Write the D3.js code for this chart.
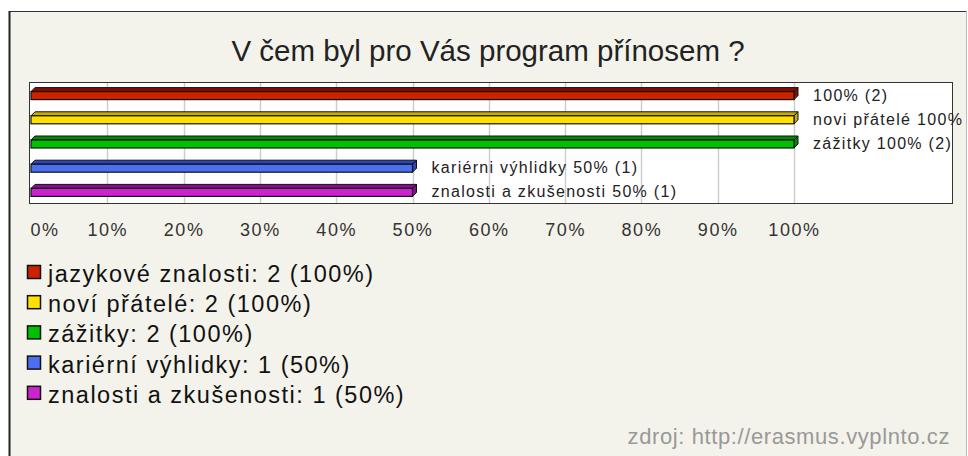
<!DOCTYPE html>
<html>
<head>
<meta charset="utf-8">
<script src="https://cdn.jsdelivr.net/npm/d3@7"></script>
<style>
  html, body { margin: 0; padding: 0; background: #fff; }
  svg { display: block; font-family: "Liberation Sans", Arial, sans-serif; }
</style>
</head>
<body>
<svg id="chart" width="968" height="456"></svg>
<script>
// Chart data
const title = "V čem byl pro Vás program přínosem ?";
const categories = ["jazykové znalosti", "noví přátelé", "zážitky", "kariérní výhlidky", "znalosti a zkušenosti"];
const counts = [2, 2, 2, 1, 1];
const percents = [100, 100, 100, 50, 50];
// labels as they appear next to the bars
const barLabels = ["100% (2)", "novi přátelé 100% (2)", "zážitky 100% (2)", "kariérni výhlidky 50% (1)", "znalosti a zkušenosti 50% (1)"];
const tickValues = [0, 10, 20, 30, 40, 50, 60, 70, 80, 90, 100];
const frontColors = ["#cc2200", "#ffe000", "#00c000", "#4a70f0", "#cc22d0"];
const topColors = ["#8a0a00", "#c8ae00", "#008a00", "#2a46b8", "#8c0a90"];
const source = "zdroj: http://erasmus.vyplnto.cz";

const svg = d3.select("#chart");
const W = 968, H = 456;

// outer frame
svg.append("rect").attr("x", 0).attr("y", 0).attr("width", W).attr("height", H).attr("fill", "#fff");
svg.append("rect").attr("x", 9).attr("y", 11).attr("width", 957).attr("height", 460)
  .attr("fill", "#f3f3eb");
svg.append("line").attr("x1", 9).attr("x2", 966).attr("y1", 11.5).attr("y2", 11.5)
  .attr("stroke", "#333").attr("stroke-width", 1);
svg.append("line").attr("x1", 9.5).attr("x2", 9.5).attr("y1", 11).attr("y2", H)
  .attr("stroke", "#222").attr("stroke-width", 2);
svg.append("line").attr("x1", 966.5).attr("x2", 966.5).attr("y1", 11).attr("y2", H)
  .attr("stroke", "#bbb").attr("stroke-width", 1);

svg.append("text")
  .attr("x", 488).attr("y", 61)
  .attr("text-anchor", "middle")
  .attr("font-size", 29.5)
  .attr("fill", "#222")
  .text(title);

// plot area
const plot = { left: 29, top: 82, right: 952, bottom: 203 };
const x = d3.scaleLinear().domain([0, 100]).range([31, 794]);
const y = d3.scaleBand().domain(categories).range([plot.top, plot.bottom]);

svg.append("rect")
  .attr("x", plot.left + 0.5).attr("y", plot.top + 0.5)
  .attr("width", plot.right - plot.left).attr("height", plot.bottom - plot.top)
  .attr("fill", "#fff").attr("stroke", "#333");

// grid lines
svg.append("g")
  .selectAll("line")
  .data(tickValues.slice(1))
  .join("line")
  .attr("x1", d => Math.round(x(d)) + 0.5)
  .attr("x2", d => Math.round(x(d)) + 0.5)
  .attr("y1", plot.top + 1).attr("y2", plot.bottom)
  .attr("stroke", "#cdcdcd").attr("stroke-width", 1.5);

// tick labels
const axis = svg.append("g")
  .attr("transform", "translate(0,222)")
  .call(d3.axisBottom(x).tickValues(tickValues).tickFormat(d => d + "%").tickSize(0));
axis.select(".domain").remove();
axis.selectAll("text")
  .attr("font-family", "Liberation Sans, Arial, sans-serif")
  .attr("font-size", 18)
  .attr("letter-spacing", 1.6)
  .attr("fill", "#333")
  .attr("dy", 0).attr("y", 14);
axis.selectAll(".tick").filter(d => d === 0).select("text")
  .attr("text-anchor", "start").attr("x", -1);

// 3D bars
const depth = 4;
const bars = svg.append("g").selectAll("g")
  .data(categories)
  .join("g");

bars.each(function(c, i) {
  const g = d3.select(this);
  const cy = y(c) + y.bandwidth() / 2;
  const x0 = x(0), x1 = x(percents[i]);
  const top = cy - 2.5, h = 8;
  // top face
  g.append("path")
    .attr("d", `M${x0},${top} L${x0 + depth},${top - depth} L${x1 + depth},${top - depth} L${x1},${top} Z`)
    .attr("fill", topColors[i]).attr("stroke", "#111").attr("stroke-width", 1);
  // right side face
  g.append("path")
    .attr("d", `M${x1},${top} L${x1 + depth},${top - depth} L${x1 + depth},${top + h - depth} L${x1},${top + h} Z`)
    .attr("fill", topColors[i]).attr("stroke", "#111").attr("stroke-width", 1);
  // front face
  g.append("rect")
    .attr("x", x0).attr("y", top)
    .attr("width", x1 - x0).attr("height", h)
    .attr("fill", frontColors[i]).attr("stroke", "#111").attr("stroke-width", 1.2);
  // value label
  g.append("text")
    .attr("x", x1 + 19).attr("y", cy + 6.5)
    .attr("font-size", 16)
    .attr("letter-spacing", 1.3)
    .attr("fill", "#222")
    .text(barLabels[i]);
});

// legend
const legend = svg.append("g").selectAll("g")
  .data(categories)
  .join("g")
  .attr("transform", (d, i) => `translate(27,${282 + i * 30.2})`);

legend.append("rect")
  .attr("x", 0.5).attr("y", -16.5)
  .attr("width", 13).attr("height", 13)
  .attr("fill", (d, i) => frontColors[i])
  .attr("stroke", "#111").attr("stroke-width", 1.5);

legend.append("text")
  .attr("x", 21).attr("y", 0)
  .attr("font-size", 23.5)
  .attr("letter-spacing", 1.5)
  .attr("fill", "#111")
  .text((d, i) => `${d}: ${counts[i]} (${percents[i]}%)`);

svg.append("text")
  .attr("x", 950).attr("y", 444)
  .attr("text-anchor", "end")
  .attr("font-size", 22)
  .attr("letter-spacing", 0.6)
  .attr("fill", "#999")
  .text(source);
</script>
</body>
</html>
